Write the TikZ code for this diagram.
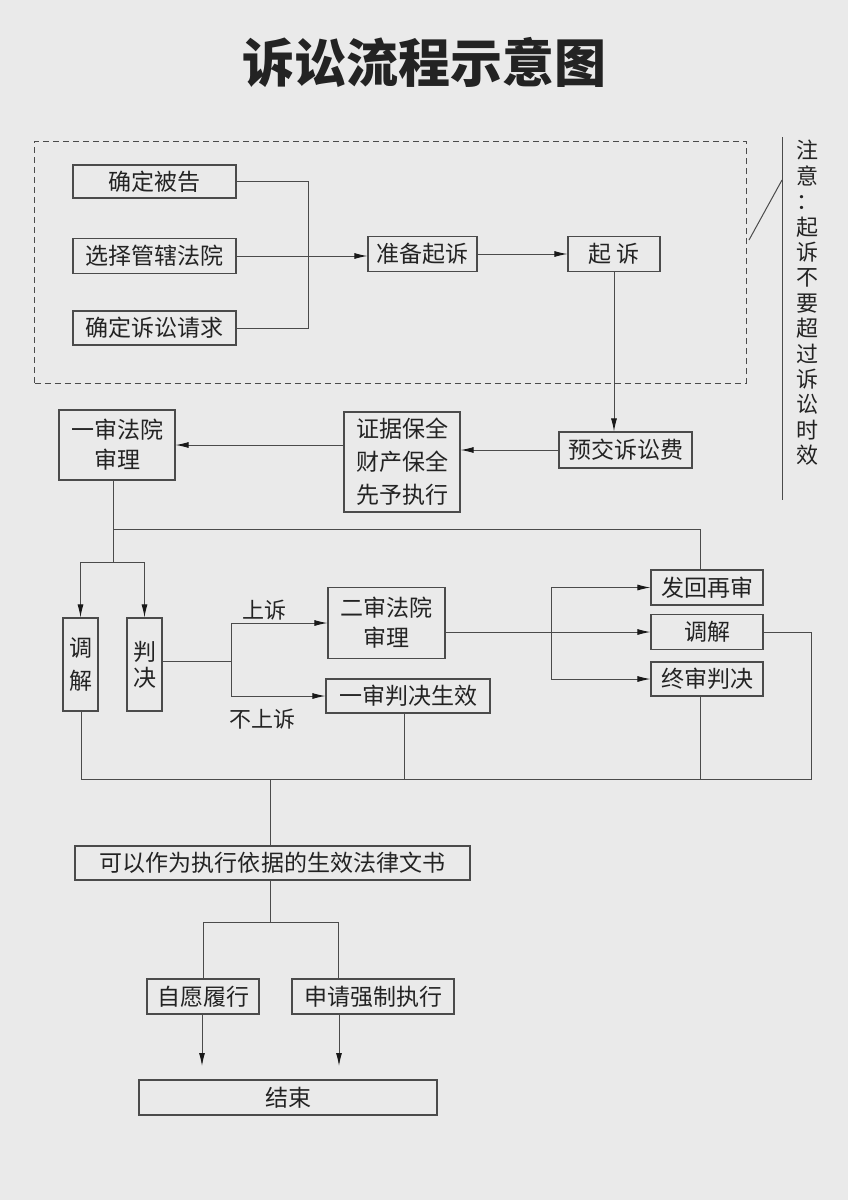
\documentclass[tikz,border=0pt]{standalone}
\usepackage{fontspec}
\setmainfont{Noto Sans CJK SC}
\usetikzlibrary{arrows.meta}
\definecolor{bgc}{RGB}{234,234,234}
\definecolor{linec}{RGB}{75,75,75}
\definecolor{tipc}{RGB}{25,25,25}
\definecolor{txtc}{RGB}{35,35,35}
\begin{document}
\begin{tikzpicture}[x=1bp,y=-1bp,
  box/.style={draw=linec, line width=1.1bp, inner sep=0pt, text=txtc,
    font=\fontsize{23bp}{30bp}\selectfont, align=center},
  conn/.style={draw=linec, line width=1bp},
  arr/.style={conn, -{Latex[length=13bp,width=6bp,color=tipc]}},
  lbl/.style={inner sep=0pt, text=txtc, font=\fontsize{22bp}{26bp}\selectfont}]
\useasboundingbox (0,0) rectangle (848,1200);
\fill[bgc] (0,0) rectangle (848,1200);

% title
\node[inner sep=0pt, text=txtc, font=\fontsize{52bp}{58bp}\selectfont\bfseries] (title) at (424,62) {诉讼流程示意图};

% dashed group
\node[draw=linec, line width=1bp, dash pattern=on 6bp off 4bp, minimum width=711bp, minimum height=242bp, inner sep=0pt] (grp) at (390.5,262) {};

% top boxes
\node[box, minimum width=163bp, minimum height=33bp] (bg) at (154.5,181.5) {确定被告};
\node[box, minimum width=163bp, minimum height=35bp] (gx) at (154.5,256) {选择管辖法院};
\node[box, minimum width=163bp, minimum height=34bp] (qq) at (154.5,328) {确定诉讼请求};
\node[box, minimum width=109bp, minimum height=35bp] (zb) at (422.5,254) {准备起诉};
\node[box, minimum width=92bp, minimum height=35bp] (qs) at (614,254) {起\hspace{6bp}诉};
\node[box, minimum width=133bp, minimum height=36bp] (yj) at (625.5,450) {预交诉讼费};
\node[box, minimum width=116bp, minimum height=100bp, font=\fontsize{23bp}{33bp}\selectfont] (zj) at (402,462) {证据保全\\财产保全\\先予执行};
\node[box, minimum width=116bp, minimum height=70bp] (ys) at (117,445) {一审法院\\审理};

% note
\node[lbl, align=center, font=\fontsize{22bp}{25.4bp}\selectfont] (note) at (807,303) {注\\意\\：\\起\\诉\\不\\要\\超\\过\\诉\\讼\\时\\效};
\coordinate (nt) at (782,137);
\coordinate (nb) at (782,500);
\coordinate (d1) at (749,240);
\coordinate (d2) at (782,180);
\draw[conn] (nt) -- (nb);
\draw[conn] (d1) -- (d2);

% middle boxes
\node[box, minimum width=35bp, minimum height=93bp, font=\fontsize{23bp}{33bp}\selectfont] (tj) at (80.5,664.5) {调\\解};
\node[box, minimum width=35bp, minimum height=93bp, font=\fontsize{23bp}{26bp}\selectfont] (pj) at (144.5,664.5) {判\\决};
\node[box, minimum width=117bp, minimum height=71bp] (es) at (386.5,623) {二审法院\\审理};
\node[box, minimum width=164bp, minimum height=34bp] (ysx) at (408,696) {一审判决生效};
\node[box, minimum width=112bp, minimum height=35bp] (fh) at (707,587.5) {发回再审};
\node[box, minimum width=112bp, minimum height=35bp] (tj2) at (707,632) {调解};
\node[box, minimum width=112bp, minimum height=34bp] (zs) at (707,679) {终审判决};
\node[lbl] (ss) at (264,610) {上诉};
\node[lbl] (bss) at (262,719) {不上诉};

% bottom boxes
\node[box, minimum width=395bp, minimum height=34bp] (ky) at (272.5,863) {可以作为执行依据的生效法律文书};
\node[box, minimum width=112bp, minimum height=35bp] (zy) at (203,996.5) {自愿履行};
\node[box, minimum width=162bp, minimum height=35bp] (sq) at (373,996.5) {申请强制执行};
\node[box, minimum width=298bp, minimum height=35bp] (js) at (288,1097.5) {结束};

% --- connectors top
\coordinate (c1) at (308,0);
\draw[conn] (bg.east) -- (c1 |- bg.east) -- (c1 |- qq.east) -- (qq.east);
\draw[arr] (gx.east) -- (gx.east -| zb.west);
\draw[arr] (zb.east) -- (qs.west);
\draw[arr] (qs.south) -- (qs.south |- yj.north);
\draw[arr] (yj.west) -- (yj.west -| zj.east);
\draw[arr] (zj.west |- ys.east) -- (ys.east);

% --- middle
\coordinate (t0) at (113,529);
\coordinate (t1) at (700,529);
\coordinate (b1) at (113,562);
\draw[conn] (ys.south -| t0) -- (b1);
\draw[conn] (t0) -- (t1) -- (t1 |- fh.north);
\draw[conn] (b1 -| tj.north) -- (b1 -| pj.north);
\draw[arr] (b1 -| tj.north) -- (tj.north);
\draw[arr] (b1 -| pj.north) -- (pj.north);
\coordinate (sp) at (231,661);
\draw[conn] (pj.east |- sp) -- (sp);
\draw[conn] (sp |- es.west) -- (sp |- ysx.west);
\draw[arr] (sp |- es.west) -- (es.west);
\draw[arr] (sp |- ysx.west) -- (ysx.west);
\draw[arr] (es.east |- tj2.west) -- (tj2.west);
\coordinate (v1) at (551,0);
\draw[conn] (v1 |- fh.west) -- (v1 |- zs.west);
\draw[arr] (v1 |- fh.west) -- (fh.west);
\draw[arr] (v1 |- zs.west) -- (zs.west);

% bottom collecting line
\coordinate (r1) at (811,779);
\coordinate (l1) at (81,779);
\coordinate (x2) at (404,779);
\coordinate (x3) at (700,779);
\coordinate (m1) at (270,779);
\draw[conn] (tj2.east) -- (r1 |- tj2.east) -- (r1) -- (l1) -- (l1 |- tj.south);
\draw[conn] (x2) -- (x2 |- ysx.south);
\draw[conn] (x3) -- (x3 |- zs.south);
\draw[conn] (m1) -- (m1 |- ky.north);

% lower branch
\coordinate (k1) at (270,922);
\coordinate (k2) at (203,922);
\coordinate (k3) at (338,922);
\draw[conn] (m1 |- ky.south) -- (k1);
\draw[conn] (k2) -- (k3);
\draw[conn] (k2) -- (k2 |- zy.north);
\draw[conn] (k3) -- (k3 |- sq.north);
\coordinate (e1) at (202,1066);
\coordinate (e2) at (339,1066);
\draw[arr] (e1 |- zy.south) -- (e1);
\draw[arr] (e2 |- sq.south) -- (e2);
\end{tikzpicture}
\end{document}
